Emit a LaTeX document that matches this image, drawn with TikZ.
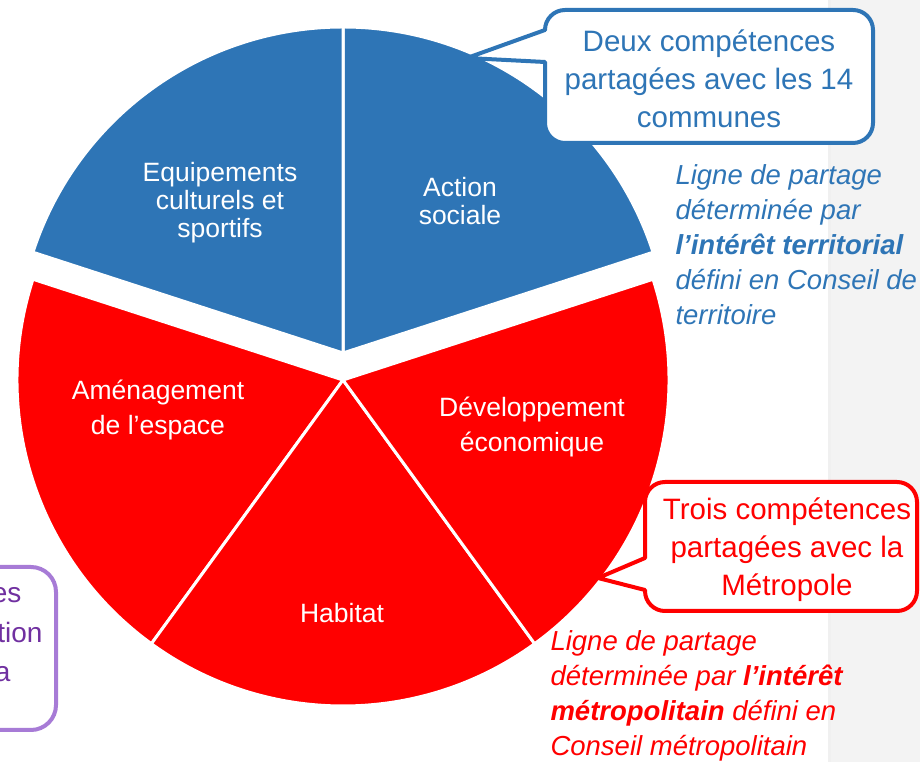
\documentclass[tikz,border=0pt]{standalone}
\usepackage{fontspec}
\setmainfont{Liberation Sans}
\usetikzlibrary{positioning, calc}

\definecolor{bleu}{HTML}{2E75B6}
\definecolor{rouge}{HTML}{FF0000}
\definecolor{violet}{HTML}{7030A0}
\definecolor{violetclair}{HTML}{A77BD6}
\definecolor{gris}{HTML}{F3F3F3}

\tikzset{
  secteur/.style={draw=white, line width=3pt, line join=round},
  etiquette/.style={text=white, align=center, font=\fontsize{26.5}{28}\selectfont},
  etiquetteR/.style={etiquette, font=\fontsize{26.5}{35}\selectfont},
  bulle/.style={line width=4pt, fill=white, line join=round},
  bulletexte/.style={align=center, font=\fontsize{29.5}{38}\selectfont},
  note/.style={align=left, anchor=west, font=\fontsize{27.5}{35}\selectfont\itshape},
  fragment/.style={anchor=base east, text=violet, font=\fontsize{28}{40}\selectfont},
}

\begin{document}
\begin{tikzpicture}[x=1pt, y=1pt]
    \useasboundingbox (0,0) rectangle (920,762);
    \clip (0,0) rectangle (920,762);

    % 背景の帯
    \fill[gris] (828,0) rectangle (920,762);
    \draw[gray!12, line width=3pt] (829.5,0) -- (829.5,762);

    % 中心
    \coordinate (cR) at (343,382);
    \coordinate (cB) at (343,409);

    % 青い扇形
    \filldraw[secteur, fill=bleu] (cB) -- ++(18:326) arc[start angle=18, end angle=90, radius=326] -- cycle;
    \filldraw[secteur, fill=bleu] (cB) -- ++(90:326) arc[start angle=90, end angle=162, radius=326] -- cycle;

    % 赤い扇形
    \filldraw[secteur, fill=rouge] (cR) -- ++(162:326) arc[start angle=162, end angle=234, radius=326] -- cycle;
    \filldraw[secteur, fill=rouge] (cR) -- ++(234:326) arc[start angle=234, end angle=306, radius=326] -- cycle;
    \filldraw[secteur, fill=rouge] (cR) -- ++(306:326) arc[start angle=306, end angle=378, radius=326] -- cycle;

    % 扇形のラベル
    \node[etiquette] (equip) at (220,559) {Equipements\\culturels et\\sportifs};
    \node[etiquette] (action) at (460,561) {Action\\sociale};
    \node[etiquetteR] (amenag) at (158,352) {Aménagement\\de l’espace};
    \node[etiquetteR] (dev) at (532,335) {Développement\\économique};
    \node[etiquette] (habitat) at (342,149) {Habitat};

    % 青い吹き出し
    \draw[bulle, draw=bleu] (467,704) -- (545,732) [rounded corners=20pt] -- (545,752)
        -- (873,752) -- (873,619) -- (545,619) [sharp corners] -- (545,700) -- cycle;
    \node[bulletexte, text=bleu] (bulleB) at (709,683) {Deux compétences\\partagées avec les 14\\communes};

    % 赤い吹き出し
    \draw[bulle, draw=rouge] (598,184) -- (645,204) [rounded corners=20pt] -- (645,280)
        -- (917,280) -- (917,151) -- (645,151) [sharp corners] -- (645,172) -- cycle;
    \node[bulletexte, text=rouge] (bulleR) at (787,212) {Trois compétences\\partagées avec la\\Métropole};

    % 注記
    \node[note, text=bleu] (noteB) at (672,517) {Ligne de partage\\déterminée par\\\textbf{l’intérêt territorial}\\défini en Conseil de\\territoire};
    \node[note, text=rouge] (noteR) at (547,66) {Ligne de partage\\déterminée par \textbf{l’intérêt}\\\textbf{métropolitain} défini en\\Conseil métropolitain};

    % 紫の枠
    \draw[violetclair, line width=4pt, rounded corners=25pt] (-80,32) rectangle (56,195);
    \node[fragment] (fragA) at (25,159) {es};
    \node[fragment] (fragB) at (46,119) {tion};
    \node[fragment] (fragC) at (14,80) {a};

\end{tikzpicture}
\end{document}
